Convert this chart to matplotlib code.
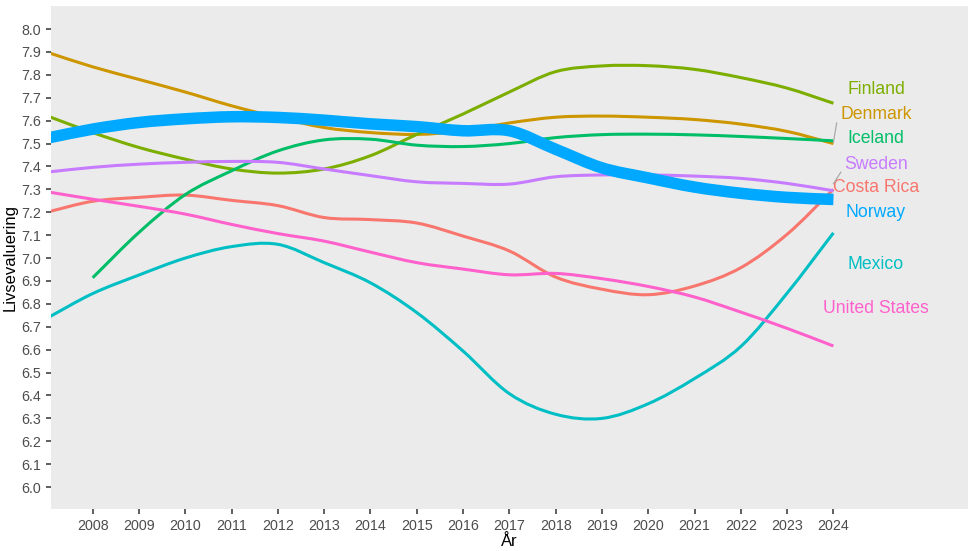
import matplotlib
matplotlib.use("Agg")
import matplotlib.pyplot as plt
from matplotlib.path import Path
from matplotlib.patches import PathPatch
import numpy as np

plt.rcParams['font.family'] = ['Liberation Sans', 'DejaVu Sans']

years = list(range(2007, 2025))
years_iceland = list(range(2008, 2025))

costa_rica = [7.20, 7.248, 7.265, 7.275, 7.252, 7.229, 7.177, 7.168, 7.153,
              7.096, 7.031, 6.917, 6.864, 6.840, 6.878, 6.958, 7.104, 7.300]
denmark = [7.90, 7.835, 7.78, 7.725, 7.665, 7.614, 7.57, 7.548, 7.54,
           7.555, 7.59, 7.615, 7.62, 7.615, 7.605, 7.585, 7.553, 7.50]
finland = [7.622, 7.548, 7.483, 7.432, 7.389, 7.371, 7.389, 7.447, 7.54,
           7.629, 7.725, 7.814, 7.839, 7.84, 7.824, 7.788, 7.742, 7.676]
iceland = [6.914, 7.112, 7.277, 7.381, 7.468, 7.516, 7.519, 7.493,
           7.487, 7.50, 7.526, 7.539, 7.541, 7.538, 7.531, 7.522, 7.512]
mexico = [6.736, 6.845, 6.926, 7.0, 7.05, 7.06, 6.98, 6.892, 6.762,
          6.594, 6.408, 6.318, 6.30, 6.364, 6.474, 6.614, 6.847, 7.11]
norway = [7.523, 7.563, 7.592, 7.608, 7.617, 7.614, 7.602, 7.586, 7.574,
          7.556, 7.556, 7.475, 7.394, 7.35, 7.31, 7.283, 7.265, 7.256]
sweden = [7.375, 7.396, 7.41, 7.418, 7.422, 7.418, 7.389, 7.36, 7.333,
          7.326, 7.323, 7.355, 7.363, 7.363, 7.358, 7.348, 7.326, 7.294]
usa = [7.29, 7.257, 7.226, 7.192, 7.147, 7.107, 7.074, 7.026, 6.98,
       6.952, 6.927, 6.933, 6.91, 6.876, 6.83, 6.764, 6.693, 6.616]

countries = ['Costa Rica', 'Denmark', 'Finland', 'Iceland', 'Mexico',
             'Norway', 'Sweden', 'United States']
series = [costa_rica, denmark, finland, iceland, mexico, norway, sweden, usa]
colors = ['#F8766D', '#CD9600', '#7CAE00', '#00BE67', '#00BFC4',
          '#00A9FF', '#C77CFF', '#FF61CC']
# label positions (repelled)
label_y = [7.307, 7.625, 7.734, 7.52, 6.97, 7.20, 7.41, 6.78]


def smooth_path(xs, ys):
    # cubic bezier segments through the points (catmull-rom tangents)
    x = np.asarray(xs, float)
    y = np.asarray(ys, float)
    n = len(x)
    mx = np.gradient(x)
    my = np.gradient(y)
    verts = [(x[0], y[0])]
    codes = [Path.MOVETO]
    for i in range(n - 1):
        verts += [(x[i] + mx[i] / 3, y[i] + my[i] / 3),
                  (x[i + 1] - mx[i + 1] / 3, y[i + 1] - my[i + 1] / 3),
                  (x[i + 1], y[i + 1])]
        codes += [Path.CURVE4] * 3
    return Path(verts, codes)


fig = plt.figure(figsize=(9.7, 5.51), dpi=100)
ax = fig.add_axes([51 / 970, 1 - 509.3 / 551, (967.7 - 51) / 970, (509.3 - 5.7) / 551])
ax.set_facecolor('#EBEBEB')

for name, vals, col in zip(countries, series, colors):
    xs = years_iceland if name == 'Iceland' else years
    thick = name == 'Norway'
    ax.add_patch(PathPatch(smooth_path(xs, vals), fill=False, edgecolor=col,
                           lw=8.3 if thick else 2.2, capstyle='butt',
                           zorder=3 if thick else 2))

for name, vals, col, ly in zip(countries, series, colors, label_y):
    ax.text(2024.92, ly, name, color=col, fontsize=12.7, ha='center', va='center', zorder=4)

# repel segments
ax.plot([2024.0, 2024.07], [7.505, 7.59], color='#AAAAAA', lw=0.9, zorder=4)
ax.plot([2024.0, 2024.16], [7.325, 7.375], color='#AAAAAA', lw=0.9, zorder=4)

ax.set_xlim(2007.1, 2026.9)
ax.set_ylim(5.903, 8.102)
ax.set_xticks(range(2008, 2025))
ax.set_yticks(np.round(np.arange(6.0, 8.01, 0.1), 1))
ax.set_yticklabels([f'{v:.1f}' for v in np.arange(6.0, 8.01, 0.1)])
ax.tick_params(axis='both', colors='#333333', labelcolor='#4D4D4D',
               labelsize=10.3, length=3.5, width=1.1)
for s in ax.spines.values():
    s.set_visible(False)
ax.set_xlabel('År', fontsize=12, labelpad=1)
ax.set_ylabel('Livsevaluering', fontsize=12, labelpad=3)

fig.savefig('out.png', dpi=100)
